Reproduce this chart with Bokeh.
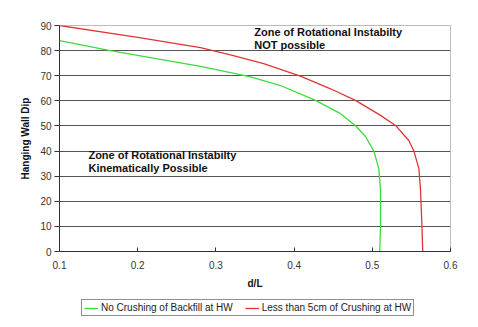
from bokeh.plotting import figure
from bokeh.models import Legend, LegendItem, Label, FixedTicker, Range1d
from bokeh.layouts import column
from bokeh.embed import file_html
from bokeh.resources import INLINE

# Data (d/L vs Hanging Wall Dip)
green_dl = [0.100, 0.165, 0.2803, 0.3187, 0.3443, 0.3826, 0.4274, 0.4593, 0.4785, 0.4913, 0.502, 0.5083, 0.5105, 0.5105, 0.5095]
green_dip = [84.0, 80.0, 73.7, 71.2, 69.5, 66.1, 60.2, 54.9, 50.1, 45.8, 40.0, 33.0, 24.3, 10.0, 0.0]
red_dl = [0.100, 0.200, 0.2803, 0.3187, 0.361, 0.408, 0.4466, 0.4785, 0.5105, 0.5297, 0.5467, 0.5532, 0.5596, 0.5617, 0.5635, 0.5645]
red_dip = [90.0, 85.3, 81.2, 78.3, 74.8, 69.8, 64.8, 60.2, 54.2, 50.2, 44.2, 40.0, 33.0, 24.3, 10.0, 0.0]
x_ticks = [0.1, 0.2, 0.3, 0.4, 0.5, 0.6]
y_ticks = [0, 10, 20, 30, 40, 50, 60, 70, 80, 90]
green_name = "No Crushing of Backfill at HW"
red_name = "Less than 5cm of Crushing at HW"

FONT = "Liberation Sans"
GREEN = "#3ddc3d"
RED = "#e03535"

p = figure(width=478, height=293, x_range=(0.1, 0.6), y_range=(0, 90),
           output_backend="svg", toolbar_location=None,
           min_border_left=59, min_border_right=28, min_border_top=25, min_border_bottom=42)

p.outline_line_color = "#bbbbbb"
p.background_fill_color = "white"
p.border_fill_color = "white"

# grids
p.xgrid.visible = False
p.ygrid.grid_line_color = "#555555"
p.ygrid.grid_line_width = 1
p.ygrid.ticker = FixedTicker(ticks=y_ticks)

# axes
p.xaxis.ticker = FixedTicker(ticks=x_ticks)
p.yaxis.ticker = FixedTicker(ticks=y_ticks)
for ax in (p.xaxis[0], p.yaxis[0]):
    ax.axis_line_color = "#333333"
    ax.major_tick_line_color = "#333333"
    ax.minor_tick_line_color = None
    ax.major_label_text_font = FONT
    ax.major_label_text_font_size = "10px"
    ax.major_label_text_color = "#333333"
    ax.axis_label_text_font = FONT
    ax.axis_label_text_font_size = "10px"
    ax.axis_label_text_font_style = "bold"
    ax.axis_label_text_color = "#111111"
p.xaxis.major_tick_in = 4
p.xaxis.major_tick_out = 0
p.yaxis.major_tick_in = 0
p.yaxis.major_tick_out = 5
p.xaxis.major_label_standoff = 9
p.yaxis.major_label_standoff = 3
p.xaxis.axis_label = "d/L"
p.xaxis.axis_label_standoff = 6
p.yaxis.axis_label = "Hanging Wall Dip"
p.yaxis.axis_label_standoff = 6

p.line(green_dl, green_dip, line_color=GREEN, line_width=1.3)
p.line(red_dl, red_dip, line_color=RED, line_width=1.3)

label_kw = dict(text_font=FONT, text_font_size="11px", text_font_style="bold",
                text_color="#111111", text_baseline="middle", text_align="left")
p.add_layout(Label(x=0.349, y=87.6, text="Zone of Rotational Instabilty", **label_kw))
p.add_layout(Label(x=0.349, y=82.1, text="NOT possible", **label_kw))
p.add_layout(Label(x=0.137, y=38.6, text="Zone of Rotational Instabilty", **label_kw))
p.add_layout(Label(x=0.137, y=33.1, text="Kinematically Possible", **label_kw))

# Legend strip below the chart (series drawn out of view, only legend shows)
lg = figure(width=478, height=34, x_range=Range1d(0, 1), y_range=Range1d(100, 101),
            output_backend="svg", toolbar_location=None,
            x_axis_type=None, y_axis_type=None,
            min_border_left=0, min_border_right=0, min_border_top=0, min_border_bottom=0)
lg.outline_line_color = None
lg.xgrid.visible = False
lg.ygrid.visible = False
g2 = lg.line(green_dl, green_dip, line_color=GREEN, line_width=1.3)
r2 = lg.line(red_dl, red_dip, line_color=RED, line_width=1.3)

legend = Legend(items=[LegendItem(label=green_name, renderers=[g2]),
                       LegendItem(label=red_name, renderers=[r2])],
                orientation="horizontal", location=(22, 11))
legend.label_text_font = FONT
legend.label_text_font_size = "10px"
legend.label_text_color = "#222222"
legend.border_line_color = "#222222"
legend.border_line_width = 1
legend.padding = 2
legend.margin = 0
legend.spacing = 12
legend.glyph_width = 14
legend.glyph_height = 10
legend.label_standoff = 3
legend.label_height = 10
legend.background_fill_alpha = 1
lg.add_layout(legend, "center")

layout = column(p, lg, spacing=0)
open("out.html", "w").write(file_html(layout, INLINE))
